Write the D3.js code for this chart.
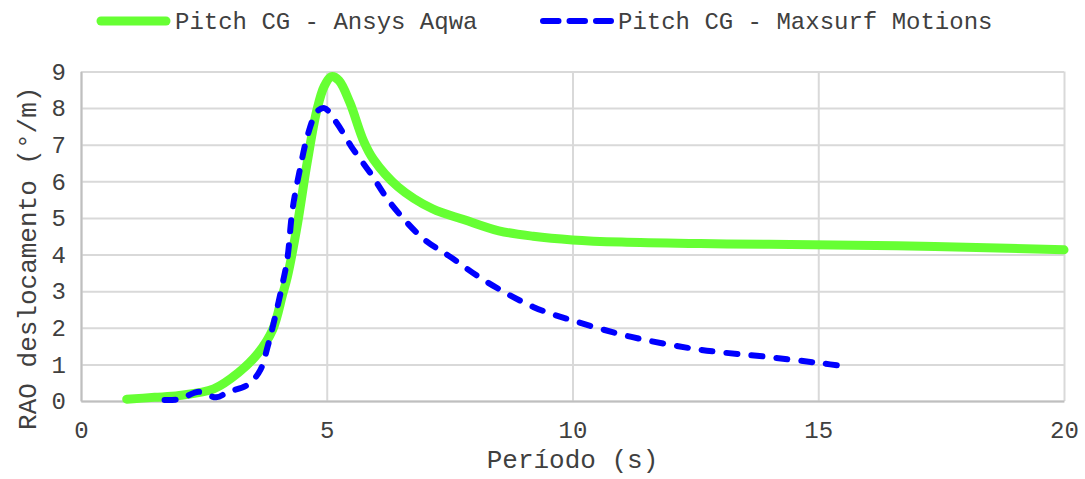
<!DOCTYPE html>
<html>
<head>
<meta charset="utf-8">
<script src="https://cdn.jsdelivr.net/npm/d3@7"></script>
<style>
  body { margin: 0; background: #fff; }
  text { font-family: "Liberation Mono", "Courier New", monospace; fill: #404040; }
</style>
</head>
<body>
<svg class="chart" width="1085" height="479"></svg>
<script>
// series names
const seriesNames = ["Pitch CG - Ansys Aqwa", "Pitch CG - Maxsurf Motions"];

// Ansys Aqwa curve (period s, RAO deg/m)
const aqwaPeriod = [0.93, 1.5, 2.0, 2.7, 3.2, 3.6, 3.9, 4.1, 4.2, 4.4, 4.6, 4.8, 4.95, 5.1, 5.25, 5.47, 5.75, 5.95, 6.45, 7.15, 7.8, 8.5, 9.2, 10, 11, 12.6, 14, 16.6, 18, 20];
const aqwaRAO = [0.05, 0.1, 0.15, 0.33, 0.77, 1.3, 1.95, 2.9, 3.4, 4.8, 6.5, 7.95, 8.6, 8.86, 8.75, 8.15, 7.1, 6.6, 5.85, 5.25, 4.95, 4.65, 4.5, 4.4, 4.34, 4.3, 4.28, 4.24, 4.2, 4.13];

// Maxsurf Motions curve
const maxsurfPeriod = [1.7, 2.0, 2.4, 2.75, 3.0, 3.4, 3.65, 3.8, 3.95, 4.1, 4.2, 4.3, 4.45, 4.62, 4.8, 4.95, 5.2, 5.5, 5.9, 6.3, 6.95, 7.5, 8.2, 9.2, 10, 11.2, 12.6, 14, 15, 15.65];
const maxsurfRAO = [0.03, 0.05, 0.25, 0.1, 0.25, 0.45, 0.85, 1.5, 2.3, 3.2, 3.9, 5.2, 6.3, 7.3, 7.9, 8.0, 7.6, 6.95, 6.2, 5.4, 4.45, 3.95, 3.3, 2.57, 2.2, 1.75, 1.4, 1.2, 1.04, 0.93];

// axis ticks
const xTicks = [0, 5, 10, 15, 20];
const yTicks = [0, 1, 2, 3, 4, 5, 6, 7, 8, 9];

// plot area edges
const plotLeft = 81, plotRight = 1064, plotTop = 71.5, plotBottom = 401;

const xScale = d3.scaleLinear().domain([0, 20]).range([plotLeft, plotRight]);
const yScale = d3.scaleLinear().domain([0, 9]).range([plotBottom, plotTop]);

const svg = d3.select(".chart");

// gridlines
svg.append("g")
  .attr("transform", `translate(0,${plotBottom})`)
  .call(d3.axisBottom(xScale).tickValues(xTicks).tickSize(-(plotBottom - plotTop)).tickFormat(""))
  .call(g => g.select(".domain").remove())
  .call(g => g.selectAll("line").attr("stroke", "#d9d9d9").attr("stroke-width", 2));

svg.append("g")
  .attr("transform", `translate(${plotLeft},0)`)
  .call(d3.axisLeft(yScale).tickValues(yTicks).tickSize(-(plotRight - plotLeft)).tickFormat(""))
  .call(g => g.select(".domain").remove())
  .call(g => g.selectAll("line").attr("stroke", "#d9d9d9").attr("stroke-width", 2));

// axis lines + labels
const xAxis = svg.append("g")
  .attr("transform", `translate(0,${plotBottom})`)
  .call(d3.axisBottom(xScale).tickValues(xTicks).tickSize(0).tickPadding(20));
xAxis.select(".domain").attr("stroke", "#bfbfbf").attr("stroke-width", 2);
xAxis.selectAll("text").style("font-size", "24px").attr("fill", "#404040");

const yAxis = svg.append("g")
  .attr("transform", `translate(${plotLeft},0)`)
  .call(d3.axisLeft(yScale).tickValues(yTicks).tickSize(0).tickPadding(15));
yAxis.select(".domain").attr("stroke", "#bfbfbf").attr("stroke-width", 2);
yAxis.selectAll("text").style("font-size", "24px").attr("fill", "#404040");

// axis titles
svg.append("text")
  .attr("x", (plotLeft + plotRight) / 2)
  .attr("y", 468)
  .attr("text-anchor", "middle")
  .style("font-size", "26px")
  .text("Período (s)");

svg.append("text")
  .attr("transform", "rotate(-90)")
  .attr("x", -(plotTop + plotBottom) / 2 - 22)
  .attr("y", 36)
  .attr("text-anchor", "middle")
  .style("font-size", "26px")
  .text("RAO deslocamento (°/m)");

// lines
const line = d3.line()
  .x(d => xScale(d[0]))
  .y(d => yScale(d[1]))
  .curve(d3.curveCatmullRom.alpha(0.5));

const aqwaData = aqwaPeriod.map((p, i) => [p, aqwaRAO[i]]);
const maxsurfData = maxsurfPeriod.map((p, i) => [p, maxsurfRAO[i]]);

svg.append("path")
  .datum(aqwaData)
  .attr("fill", "none")
  .attr("stroke", "#66ff33")
  .attr("stroke-width", 9)
  .attr("stroke-linecap", "round")
  .attr("stroke-linejoin", "round")
  .attr("d", line);

svg.append("path")
  .datum(maxsurfData)
  .attr("fill", "none")
  .attr("stroke", "#0000ff")
  .attr("stroke-width", 6)
  .attr("stroke-linecap", "round")
  .attr("stroke-dasharray", "11,14")
  .attr("d", line);

// legend
const legend = svg.append("g");
legend.append("line")
  .attr("x1", 101).attr("x2", 166).attr("y1", 21).attr("y2", 21)
  .attr("stroke", "#66ff33").attr("stroke-width", 9).attr("stroke-linecap", "round");
legend.append("text")
  .attr("x", 175).attr("y", 29)
  .style("font-size", "24px")
  .text(seriesNames[0]);

legend.append("line")
  .attr("x1", 543).attr("x2", 611).attr("y1", 21).attr("y2", 21)
  .attr("stroke", "#0000ff").attr("stroke-width", 6).attr("stroke-linecap", "round")
  .attr("stroke-dasharray", "15.5,11");
legend.append("text")
  .attr("x", 618).attr("y", 29)
  .style("font-size", "24px")
  .text(seriesNames[1]);
</script>
</body>
</html>
